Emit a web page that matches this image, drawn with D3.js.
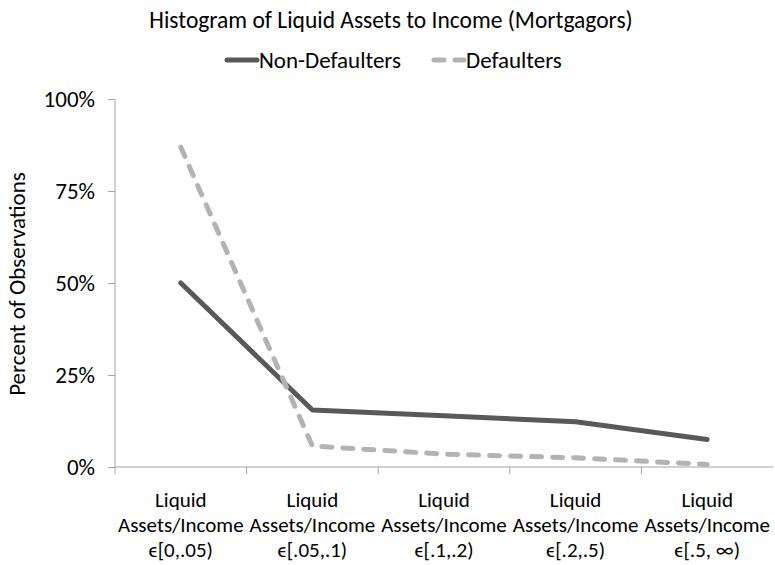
<!DOCTYPE html>
<html lang="en">
<head>
    <meta charset="UTF-8">
    <title>Liquid Assets to Income</title>
    <script src="https://d3js.org/d3.v7.min.js"></script>
    <style>
        body {background:#fff; margin:0}
        svg text {font-family: Carlito, "Open Sans", sans-serif; fill:#000}
    </style>
</head>
<body>
<svg id="chart" width="775" height="565"></svg>

<script>
// categories (x labels are split on "|")
var categories = [
    "Liquid|Assets/Income|\u03f5[0,.05)",
    "Liquid|Assets/Income|\u03f5[.05,.1)",
    "Liquid|Assets/Income|\u03f5[.1,.2)",
    "Liquid|Assets/Income|\u03f5[.2,.5)",
    "Liquid|Assets/Income|\u03f5[.5, \u221e)"
];
var nonDefaulters = [0.50, 0.155, 0.139, 0.123, 0.075];
var defaulters = [0.869, 0.057, 0.035, 0.025, 0.007];
var yTicks = [0, 0.25, 0.5, 0.75, 1];

var svg = d3.select("#chart");
var plotLeft = 115, plotRight = 773, plotTop = 99, plotBottom = 467;

var x = d3.scaleBand().domain(categories).range([plotLeft, plotRight]).paddingInner(0).paddingOuter(0);
var y = d3.scaleLinear().domain([0, 1]).range([plotBottom, plotTop]);
var fmt = d3.format(".0%");

// title
svg.append("text")
    .attr("x", 391).attr("y", 28)
    .attr("text-anchor", "middle")
    .style("font-size", "23.5px")
    .text("Histogram of Liquid Assets to Income (Mortgagors)");

// y axis
var yAxis = svg.append("g")
    .attr("transform", "translate(" + plotLeft + ",0)")
    .call(d3.axisLeft(y).tickValues(yTicks).tickFormat(fmt).tickSize(7).tickPadding(13));
yAxis.selectAll("path, line").attr("stroke", "#a6a6a6");
yAxis.select("path").attr("d", "M0," + plotBottom + "V" + plotTop);
yAxis.selectAll("text").style("font-size", "23px").attr("fill", "#000");

// x axis: labels centred, ticks on band edges
var xAxis = svg.append("g")
    .attr("transform", "translate(0," + plotBottom + ")");
xAxis.append("line")
    .attr("x1", plotLeft).attr("x2", plotRight)
    .attr("stroke", "#a6a6a6");
xAxis.selectAll("line.tick")
    .data(categories)
    .enter().append("line")
    .attr("class", "tick")
    .attr("x1", function(d){ return x(d); })
    .attr("x2", function(d){ return x(d); })
    .attr("y1", 0).attr("y2", 7)
    .attr("stroke", "#a6a6a6");
var lbl = xAxis.selectAll("text")
    .data(categories)
    .enter().append("text")
    .attr("text-anchor", "middle")
    .style("font-size", "21px");
lbl.selectAll("tspan")
    .data(function(d){ return d.split("|").map(function(s){ return {s: s, c: d}; }); })
    .enter().append("tspan")
    .attr("x", function(d){ return x(d.c) + x.bandwidth() / 2; })
    .attr("y", function(d, i){ return 40 + i * 25; })
    .text(function(d){ return d.s; });

// y axis title
svg.append("text")
    .attr("transform", "translate(25,284) rotate(-90)")
    .attr("text-anchor", "middle")
    .style("font-size", "23px")
    .text("Percent of Observations");

// lines
var line = d3.line()
    .x(function(d, i){ return x(categories[i]) + x.bandwidth() / 2; })
    .y(function(d){ return y(d); });

svg.append("path")
    .datum(nonDefaulters)
    .attr("d", line)
    .attr("fill", "none")
    .attr("stroke", "#595959")
    .attr("stroke-width", 5)
    .attr("stroke-linecap", "round")
    .attr("stroke-linejoin", "round");

svg.append("path")
    .datum(defaulters)
    .attr("d", line)
    .attr("fill", "none")
    .attr("stroke", "#b3b3b3")
    .attr("stroke-width", 5)
    .attr("stroke-dasharray", "10,11")
    .attr("stroke-linecap", "round")
    .attr("stroke-linejoin", "round");

// legend
var legend = [
    {name: "Non-Defaulters", color: "#595959", dash: null, x: 224},
    {name: "Defaulters", color: "#b3b3b3", dash: "10,11", x: 431}
];
var lg = svg.selectAll("g.legend")
    .data(legend)
    .enter().append("g")
    .attr("class", "legend")
    .attr("transform", function(d){ return "translate(" + d.x + ",60)"; });
lg.append("line")
    .attr("x1", 3).attr("x2", 33)
    .attr("stroke", function(d){ return d.color; })
    .attr("stroke-width", 5)
    .attr("stroke-linecap", "round")
    .attr("stroke-dasharray", function(d){ return d.dash; });
lg.append("text")
    .attr("x", 35).attr("y", 8)
    .style("font-size", "23px")
    .text(function(d){ return d.name; });
</script>
</body>
</html>
